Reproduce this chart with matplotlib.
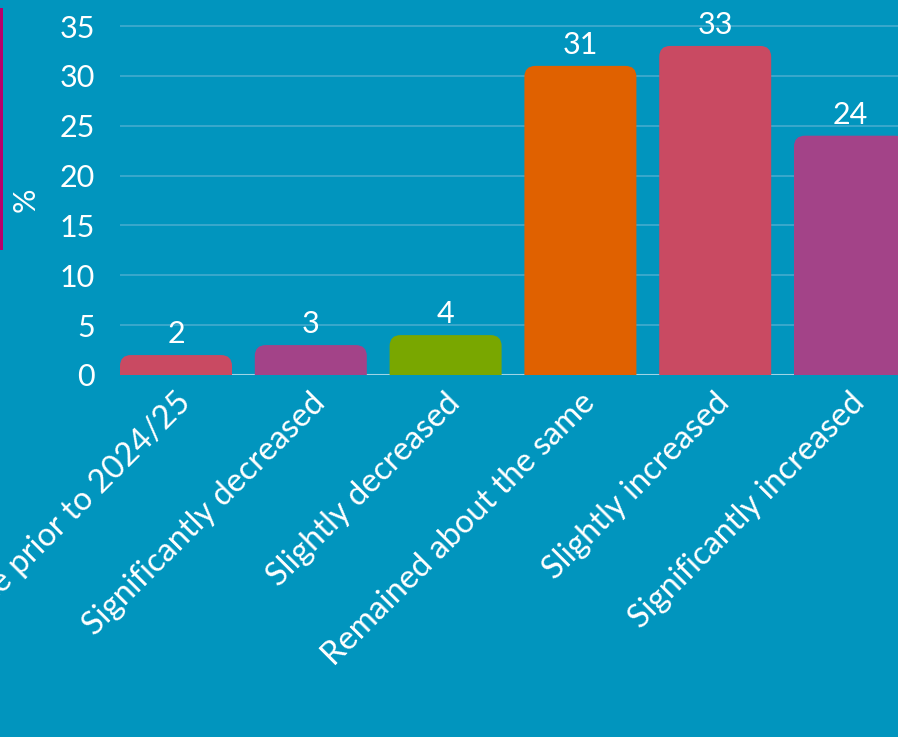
import matplotlib
matplotlib.use("Agg")
import matplotlib.pyplot as plt
from matplotlib.patches import FancyBboxPatch, Rectangle
from matplotlib.transforms import offset_copy

categories = [
    "Did not operate prior to 2024/25",
    "Significantly decreased",
    "Slightly decreased",
    "Remained about the same",
    "Slightly increased",
    "Significantly increased",
]
values = [2, 3, 4, 31, 33, 24]
bar_colors = ["#c94a62", "#a34388", "#79a700", "#e06100", "#c94a62", "#a34388"]
y_ticks = [0, 5, 10, 15, 20, 25, 30, 35]

BG = "#0195be"
GRID = "#3eaacd"
FONT = "Lato"

W, H = 898, 737
fig = plt.figure(figsize=(W / 100, H / 100), dpi=100, facecolor=BG)

# axes box in pixels (left, bottom, width, height)
ax_left, ax_bottom, ax_top = 120, 737 - 375, 20
ax = fig.add_axes([ax_left / W, ax_bottom / H, (W - ax_left) / W, (H - ax_top - ax_bottom) / H])
ax.set_facecolor(BG)

px_per_cat = 134.8
px_per_unit = 349 / 35.0
x_lo = -56 / px_per_cat
ax.set_xlim(x_lo, x_lo + (W - ax_left) / px_per_cat)
ax.set_ylim(0, (H - ax_top - ax_bottom) / px_per_unit)

ax.set_yticks(y_ticks)
ax.set_yticklabels([str(t) for t in y_ticks])
ax.tick_params(axis="y", length=0, pad=18, labelsize=22, labelcolor="white")
for lab in ax.get_yticklabels():
    lab.set_fontfamily(FONT)
ax.set_xticks([])
for s in ax.spines.values():
    s.set_visible(False)
ax.grid(axis="y", color=GRID, linewidth=1.3, zorder=0)
ax.set_axisbelow(True)
ax.axhline(0, color="#9fd4e6", linewidth=1.5, zorder=1)

# bars with rounded top corners
bar_w = 112 / px_per_cat
bars = ax.bar(range(len(values)), values, width=bar_w, color=bar_colors, zorder=2)
r_px = 11
aspect = px_per_cat / px_per_unit
for rect, col in zip(bars, bar_colors):
    x0, w, h = rect.get_x(), rect.get_width(), rect.get_height()
    rect.set_visible(False)
    below = 3.0
    patch = FancyBboxPatch((x0, -below), w, h + below,
                           boxstyle=f"round,pad=0,rounding_size={r_px / px_per_cat}",
                           mutation_aspect=aspect, facecolor=col, edgecolor="none",
                           zorder=2)
    ax.add_patch(patch)
    ax.text(rect.get_x() + w / 2, h, f"{h:g}",
            transform=offset_copy(ax.transData, fig=fig, x=0, y=7, units="dots"),
            ha="center", va="bottom", fontsize=22, color="white",
            fontfamily=FONT, clip_on=False, zorder=3)

# rotated category labels
for i, cat in enumerate(categories):
    ax.text(i, 0, cat,
            transform=offset_copy(ax.transData, fig=fig, x=10, y=-23, units="dots"),
            rotation=45, rotation_mode="anchor", ha="right", va="center",
            fontsize=23.5, color="white", fontfamily=FONT, clip_on=False)

fig.text(26 / W, 1 - 200 / H, "%", rotation=90, ha="center", va="center",
         fontsize=22, color="white", fontfamily=FONT)

# accent strip on the left edge
fig.patches.append(Rectangle((0, 1 - 250 / H), 2.5 / W, 242 / H,
                             transform=fig.transFigure, facecolor="#b8006a",
                             edgecolor="none"))

fig.savefig("out.png", dpi=100, facecolor=BG)
